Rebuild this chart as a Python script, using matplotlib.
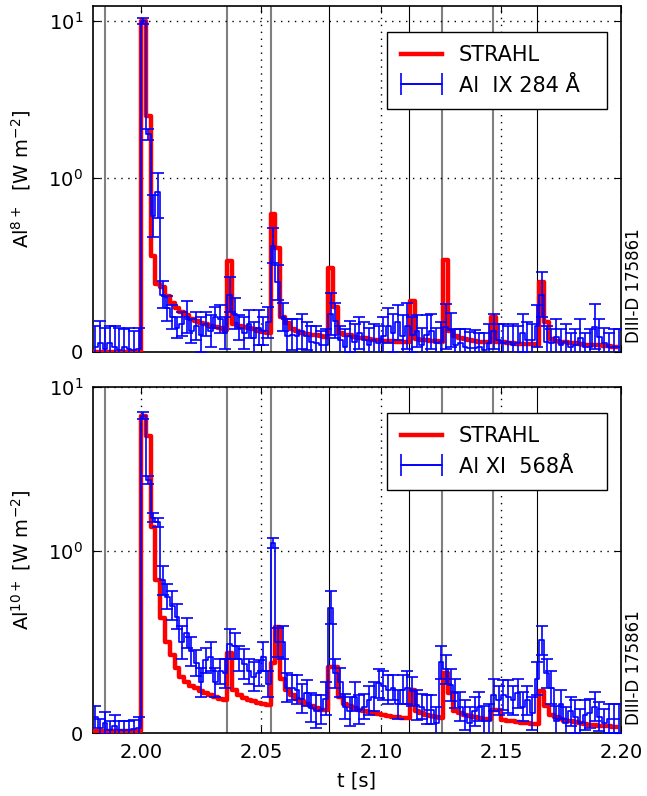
import numpy as np
import matplotlib
matplotlib.use("Agg")
import matplotlib.pyplot as plt
from matplotlib.legend_handler import HandlerErrorbar
from matplotlib.lines import Line2D

plt.rcParams['font.family'] = ['DejaVu Sans']
plt.rcParams['mathtext.fontset'] = 'dejavusans'
plt.rcParams['xtick.direction'] = 'in'
plt.rcParams['ytick.direction'] = 'in'
plt.rcParams['xtick.top'] = True
plt.rcParams['ytick.right'] = True
plt.rcParams['xtick.major.size'] = 5
plt.rcParams['ytick.major.size'] = 5

# time bins (centres), 2 ms resolution
t_start, t_step, n_bins = 1.981, 0.002, 110
t = t_start + t_step * np.arange(n_bins)

# ---------------- top panel : Al IX 284 A ----------------
al9_meas = [0.03, 0.05, 0.02, 0.05, 0.03, 0.01, 0.03, 0.02, 0.01, 0.02,
            10.0, 1.9, 0.78, 0.92, 0.33, 0.25, 0.2, 0.14, 0.16, 0.2,
            0.12, 0.15, 0.1, 0.16, 0.12, 0.2, 0.19, 0.11, 0.33, 0.22,
            0.14, 0.11, 0.16, 0.08, 0.14, 0.12, 0.17, 0.61, 0.4, 0.2,
            0.09, 0.1, 0.09, 0.12, 0.09, 0.06, 0.05, 0.04, 0.04, 0.22,
            0.18, 0.07, 0.03, 0.09, 0.06, 0.11, 0.07, 0.04, 0.07, 0.05,
            0.09, 0.15, 0.11, 0.17, 0.09, 0.15, 0.1, 0.12, 0.04, 0.1,
            0.12, 0.05, 0.06, 0.145, 0.126, 0.04, 0.05, 0.03, 0.025, 0.025,
            0.03, 0.01, 0.05, 0.12, 0.07, 0.05, 0.06, 0.04, 0.05, 0.11,
            0.07, 0.07, 0.15, 0.33, 0.06, 0.05, 0.088, 0.04, 0.06, 0.03,
            0.04, 0.08, 0.03, 0.03, 0.145, 0.088, 0.05, 0.03, 0.03, 0.03]
al9_err = [0.12, 0.13, 0.12, 0.1, 0.12, 0.13, 0.1, 0.12, 0.11, 0.12,
           0.4, 0.15, 0.12, 0.15, 0.08, 0.07, 0.07, 0.06, 0.07, 0.09,
           0.07, 0.08, 0.1, 0.07, 0.09, 0.06, 0.08, 0.09, 0.1, 0.09,
           0.07, 0.09, 0.08, 0.09, 0.1, 0.08, 0.09, 0.1, 0.1, 0.08,
           0.1, 0.09, 0.1, 0.1, 0.08, 0.09, 0.1, 0.08, 0.09, 0.12,
           0.1, 0.08, 0.1, 0.09, 0.1, 0.09, 0.1, 0.1, 0.09, 0.1,
           0.11, 0.1, 0.11, 0.1, 0.12, 0.13, 0.1, 0.09, 0.1, 0.11,
           0.1, 0.09, 0.11, 0.13, 0.1, 0.09, 0.08, 0.1, 0.09, 0.1,
           0.08, 0.1, 0.11, 0.1, 0.09, 0.11, 0.09, 0.12, 0.1, 0.11,
           0.1, 0.09, 0.12, 0.13, 0.09, 0.08, 0.1, 0.09, 0.1, 0.08,
           0.09, 0.11, 0.08, 0.1, 0.13, 0.1, 0.09, 0.08, 0.1, 0.1]
al9_strahl = [0.0, 0.0, 0.0, 0.0, 0.0, 0.0, 0.0, 0.0, 0.0, 0.0,
              10.0, 2.5, 0.55, 0.39, 0.375, 0.32, 0.28, 0.25, 0.23, 0.21,
              0.19, 0.18, 0.165, 0.16, 0.15, 0.145, 0.135, 0.126, 0.52, 0.16,
              0.15, 0.145, 0.14, 0.13, 0.12, 0.115, 0.107, 0.79, 0.6, 0.2,
              0.165, 0.13, 0.12, 0.11, 0.105, 0.1, 0.095, 0.09, 0.088, 0.48,
              0.26, 0.107, 0.1, 0.095, 0.088, 0.082, 0.078, 0.074, 0.07, 0.068,
              0.065, 0.063, 0.062, 0.06, 0.06, 0.06, 0.29, 0.075, 0.07, 0.068,
              0.065, 0.062, 0.06, 0.53, 0.12, 0.09, 0.08, 0.075, 0.07, 0.065,
              0.06, 0.058, 0.055, 0.2, 0.06, 0.055, 0.052, 0.05, 0.048, 0.046,
              0.045, 0.044, 0.043, 0.4, 0.174, 0.075, 0.065, 0.06, 0.055, 0.05,
              0.05, 0.045, 0.043, 0.04, 0.04, 0.038, 0.035, 0.033, 0.03, np.nan]

# ---------------- bottom panel : Al XI 568 A ----------------
al11_meas = [0.09, 0.03, 0.056, 0.02, 0.04, 0.02, 0.02, 0.02, 0.025, 0.03,
             6.7, 2.7, 1.6, 1.5, 0.84, 0.75, 0.7, 0.64, 0.5, 0.55,
             0.45, 0.385, 0.28, 0.4, 0.42, 0.28, 0.34, 0.33, 0.49, 0.48,
             0.41, 0.38, 0.34, 0.31, 0.33, 0.42, 0.27, 1.12, 0.5, 0.5,
             0.25, 0.25, 0.24, 0.19, 0.22, 0.14, 0.12, 0.13, 0.19, 0.69,
             0.33, 0.28, 0.146, 0.12, 0.2, 0.13, 0.146, 0.18, 0.2, 0.275,
             0.26, 0.24, 0.25, 0.16, 0.24, 0.25, 0.23, 0.155, 0.146, 0.13,
             0.13, 0.055, 0.39, 0.35, 0.265, 0.22, 0.146, 0.1, 0.055, 0.12,
             0.146, 0.07, 0.07, 0.21, 0.18, 0.21, 0.2, 0.18, 0.22, 0.146,
             0.18, 0.11, 0.3, 0.51, 0.33, 0.25, 0.07, 0.16, 0.055, 0.12,
             0.09, 0.055, 0.1, 0.11, 0.146, 0.09, 0.055, 0.08, 0.08, 0.08]
al11_err = [0.06, 0.05, 0.06, 0.05, 0.06, 0.05, 0.05, 0.05, 0.05, 0.06,
            0.3, 0.15, 0.1, 0.1, 0.08, 0.07, 0.08, 0.07, 0.09, 0.08,
            0.08, 0.07, 0.08, 0.07, 0.08, 0.08, 0.07, 0.08, 0.08, 0.07,
            0.07, 0.08, 0.07, 0.08, 0.07, 0.08, 0.07, 0.08, 0.08, 0.09,
            0.08, 0.07, 0.08, 0.08, 0.07, 0.08, 0.09, 0.08, 0.09, 0.09,
            0.08, 0.08, 0.07, 0.08, 0.08, 0.08, 0.07, 0.08, 0.08, 0.08,
            0.08, 0.08, 0.07, 0.08, 0.08, 0.09, 0.08, 0.08, 0.07, 0.08,
            0.08, 0.09, 0.09, 0.08, 0.09, 0.08, 0.08, 0.08, 0.09, 0.08,
            0.08, 0.08, 0.09, 0.09, 0.08, 0.08, 0.09, 0.08, 0.08, 0.08,
            0.08, 0.09, 0.09, 0.08, 0.08, 0.09, 0.08, 0.08, 0.09, 0.08,
            0.09, 0.08, 0.08, 0.08, 0.08, 0.08, 0.08, 0.08, 0.08, 0.08]
al11_strahl = [0.01, 0.01, 0.01, 0.01, 0.01, 0.01, 0.01, 0.01, 0.01, 0.01,
               6.7, 5.0, 1.41, 0.84, 0.63, 0.5, 0.43, 0.357, 0.31, 0.28,
               0.26, 0.247, 0.23, 0.22, 0.21, 0.2, 0.19, 0.18, 0.44, 0.24,
               0.21, 0.195, 0.185, 0.175, 0.165, 0.16, 0.155, 0.386, 0.585, 0.3,
               0.24, 0.21, 0.19, 0.175, 0.16, 0.15, 0.14, 0.13, 0.125, 0.366,
               0.366, 0.2, 0.16, 0.15, 0.14, 0.13, 0.12, 0.115, 0.11, 0.105,
               0.1, 0.095, 0.09, 0.09, 0.085, 0.085, 0.24, 0.12, 0.11, 0.1,
               0.095, 0.09, 0.085, 0.33, 0.22, 0.12, 0.11, 0.1, 0.095, 0.09,
               0.085, 0.08, 0.08, 0.128, 0.128, 0.075, 0.07, 0.065, 0.06, 0.058,
               0.055, 0.053, 0.05, 0.23, 0.15, 0.1, 0.09, 0.08, 0.07, 0.065,
               0.06, 0.055, 0.05, 0.048, 0.045, 0.042, 0.04, 0.038, 0.036, np.nan]

# LBO injection times
gray_times = [1.985, 2.0357, 2.0542, 2.1253, 2.1468]
black_times = [2.0785, 2.1118, 2.1651]

xticks = [2.00, 2.05, 2.10, 2.15, 2.20]
xlim = (1.98, 2.20)

panels = [
    dict(meas=al9_meas, err=al9_err, strahl=al9_strahl, ymax=12.5,
         ylabel=r'Al$^{8+}$  [W m$^{-2}$]', label='Al  IX 284 Å  '),
    dict(meas=al11_meas, err=al11_err, strahl=al11_strahl, ymax=10.0,
         ylabel=r'Al$^{10+}$ [W m$^{-2}$]', label='Al XI  568Å   '),
]

fig = plt.figure(figsize=(6.47, 7.96), dpi=100)
rects = [[0.1437, 0.5578, 0.8161, 0.4347], [0.1437, 0.0788, 0.8161, 0.4350]]

for i, (p, r) in enumerate(zip(panels, rects)):
    ax = fig.add_axes(r)
    ax.set_yscale('symlog', linthresh=1, linscale=1)
    for tt in gray_times:
        ax.axvline(tt, color='0.5', lw=1.5, zorder=1)
    for tt in black_times:
        ax.axvline(tt, color='k', lw=0.8, zorder=1)
    ax.plot(t, p['strahl'], drawstyle='steps-mid', color='r', lw=3.2,
            zorder=3, label='STRAHL')
    ax.errorbar(t, p['meas'], yerr=p['err'], drawstyle='steps-mid',
                color='b', lw=1.2, elinewidth=1.2, capsize=4, capthick=1.2,
                zorder=4)
    dummy = ax.errorbar([np.nan], [np.nan], xerr=[1.0], color='b', lw=1.2,
                        capsize=8, capthick=1.2, label=p['label'])
    ax.set_xlim(*xlim)
    ax.set_ylim(0, p['ymax'])
    ax.set_yticks([0, 1, 10])
    ax.yaxis.set_minor_locator(matplotlib.ticker.NullLocator())
    ax.set_xticks(xticks)
    ax.grid(True, which='major', color='k', lw=1.0, linestyle=(0, (1, 4)))
    ax.tick_params(axis='both', labelsize=14)
    ax.tick_params(axis='y', pad=7)
    ax.tick_params(axis='x', pad=7)
    ax.set_ylabel(p['ylabel'], fontsize=14)
    ax.yaxis.set_label_coords(-0.113, 0.5)
    if i == 0:
        ax.set_xticklabels([])
    else:
        ax.set_xticklabels(['%.2f' % v for v in xticks])
        ax.set_xlabel('t [s]', fontsize=14, labelpad=7)
    red_h = Line2D([], [], color='r', lw=3.2)
    leg = ax.legend([red_h, dummy], ['STRAHL', p['label']],
                    loc='upper right', bbox_to_anchor=(0.973, 0.926),
                    fontsize=15, fancybox=False, framealpha=1,
                    edgecolor='k', borderaxespad=0, handlelength=2.0,
                    borderpad=0.65,
                    handler_map={dummy: HandlerErrorbar(xerr_size=1.0)})
    leg.get_frame().set_linewidth(1.0)
    ax.text(1.008, 0.025, 'DIII-D 175861', rotation=90, transform=ax.transAxes,
            ha='left', va='bottom', fontsize=12)
    for s in ax.spines.values():
        s.set_linewidth(1.2)

fig.savefig('out.png', dpi=100)
